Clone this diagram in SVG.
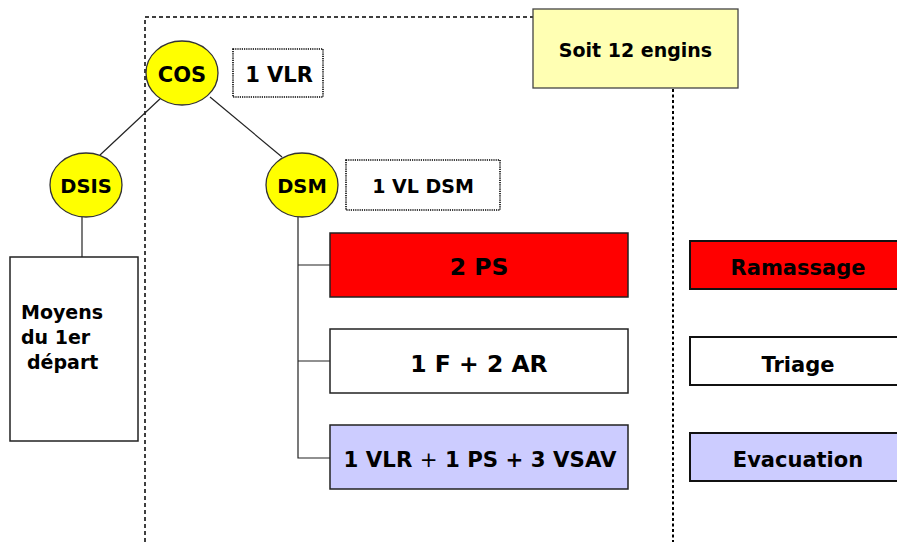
<svg xmlns="http://www.w3.org/2000/svg" width="897" height="542" viewBox="0 0 897 542">
<style>
text{font-family:"DejaVu Sans",Verdana,sans-serif;font-weight:bold;fill:#000}
.ell{fill:#ffff00;stroke:#333;stroke-width:1.3}
.box{stroke:#222;stroke-width:1.5}
.rbox{stroke:#111;stroke-width:2}
.dot{fill:#fff;stroke:#000;stroke-width:1.6;stroke-dasharray:1.2 1}
.con{stroke:#222;stroke-width:1.2;fill:none}
.frame{stroke:#000;stroke-width:1.5;fill:none;stroke-dasharray:4 3}
</style>
<g id="frame">
<path class="frame" d="M145,542 V17 H533"/>
<line x1="673" y1="89" x2="673" y2="542" stroke="#000" stroke-width="2" stroke-dasharray="3 2.5"/>
</g>
<g id="connectors">
<line class="con" x1="162" y1="97" x2="100" y2="155"/>
<line class="con" x1="210" y1="97" x2="282" y2="157"/>
<line class="con" x1="82" y1="217" x2="82" y2="257"/>
<path class="con" d="M298,217 V458 H330 M298,265 H330 M298,361 H330"/>
</g>
<g id="total">
<rect x="533" y="9" width="205" height="79" fill="#ffffb3" stroke="#444" stroke-width="1.3"/>
<text x="635.5" y="57" font-size="19" text-anchor="middle">Soit 12 engins</text>
</g>
<g id="cos">
<ellipse class="ell" cx="182" cy="73" rx="36" ry="32"/>
<text x="182" y="82" font-size="21" text-anchor="middle">COS</text>
</g>
<g id="vlr">
<rect class="dot" x="233" y="49" width="90" height="48"/>
<text x="279" y="82" font-size="21" text-anchor="middle">1 VLR</text>
</g>
<g id="dsis">
<ellipse class="ell" cx="86" cy="185" rx="36" ry="32"/>
<text x="86" y="193" font-size="19.5" text-anchor="middle">DSIS</text>
</g>
<g id="dsm">
<ellipse class="ell" cx="302" cy="185" rx="36" ry="32"/>
<text x="302" y="193" font-size="19.5" text-anchor="middle">DSM</text>
</g>
<g id="vldsm">
<rect class="dot" x="346" y="160" width="154" height="50"/>
<text x="423" y="193" font-size="19" text-anchor="middle">1 VL DSM</text>
</g>
<g id="moyens">
<rect class="box" x="10" y="257" width="128" height="184" fill="#fff"/>
<text x="21" y="319" font-size="19">Moyens</text>
<text x="21" y="344" font-size="19">du 1er</text>
<text x="27" y="369" font-size="19">départ</text>
</g>
<g id="ps">
<rect class="box" x="330" y="233" width="298" height="64" fill="#ff0000"/>
<text x="479" y="275" font-size="23.5" text-anchor="middle">2 PS</text>
</g>
<g id="far">
<rect class="box" x="330" y="329" width="298" height="64" fill="#fff"/>
<text x="479" y="372" font-size="23.5" text-anchor="middle">1 F + 2 AR</text>
</g>
<g id="vsav">
<rect class="box" x="330" y="425" width="298" height="64" fill="#ccccff"/>
<text x="480" y="467" font-size="21.3" text-anchor="middle">1 VLR <tspan font-weight="normal">+</tspan> 1 PS + 3 VSAV</text>
</g>
<g id="ramassage">
<rect class="rbox" x="690" y="241" width="215" height="48" fill="#ff0000"/>
<text x="798" y="275" font-size="21" text-anchor="middle">Ramassage</text>
</g>
<g id="triage">
<rect class="rbox" x="690" y="337" width="215" height="48" fill="#fff"/>
<text x="798" y="372" font-size="21" text-anchor="middle">Triage</text>
</g>
<g id="evacuation">
<rect class="rbox" x="690" y="433" width="215" height="48" fill="#ccccff"/>
<text x="798" y="467" font-size="21" text-anchor="middle">Evacuation</text>
</g>
</svg>
